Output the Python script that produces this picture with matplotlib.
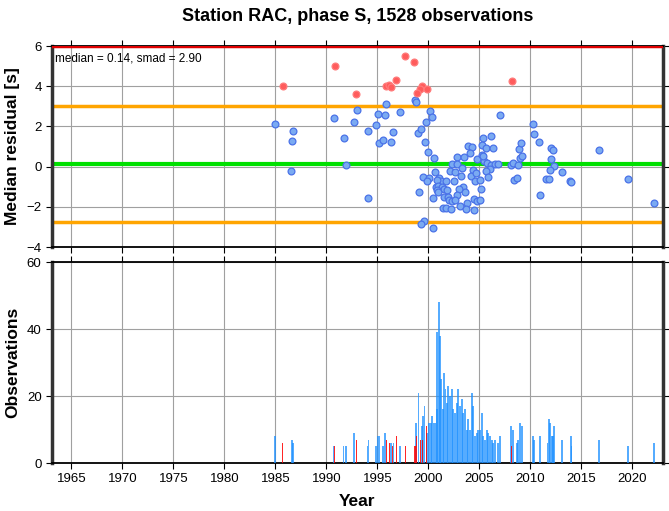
import numpy as np
import matplotlib
matplotlib.use("Agg")
import matplotlib.pyplot as plt

plt.rcParams['font.family'] = ['Liberation Sans', 'DejaVu Sans']

station = "RAC"
phase = "S"
n_obs = 1528
median = 0.14
smad = 2.90

# outliers (red) - year, median residual
red_year = [1985.73, 1990.88, 1992.91, 1997.72, 1998.63, 1995.85, 1996.12, 1996.34,
            1996.86, 1999.41, 1999.19, 1998.89, 1999.84, 2008.18]
red_res = [4.00, 5.01, 3.59, 5.49, 5.23, 4.02, 4.04, 3.94,
           4.32, 4.02, 3.84, 3.67, 3.87, 4.24]

# accepted events (blue)
blue_year = [1984.97, 1986.76, 1986.67, 1986.57, 1990.73, 1991.74, 1991.93, 1992.75,
             1993.01, 1994.06, 1994.09, 1994.87, 1995.04, 1995.17, 1995.56, 1995.78,
             1995.85, 1996.31, 1996.54, 1997.23, 1998.73, 1998.79, 1998.99, 1999.25,
             1999.77, 2000.14, 2000.33, 1999.65, 2000.00, 2000.56, 1999.51, 2000.07,
             1999.90, 1999.06, 1999.61, 1999.31, 2000.43, 2000.63, 2000.46, 2005.39,
             2003.89, 2004.31, 2004.09, 2002.84, 2003.50, 2004.77, 2005.29, 2005.46,
             2002.32, 2002.81, 2003.33, 2002.10, 2002.62, 2004.35, 2003.21, 2004.19,
             2004.68, 2001.08, 2001.25, 2000.82, 2001.71, 2002.52, 2004.61, 2000.73,
             2000.98, 2001.31, 2001.57, 2000.88, 2001.86, 2000.98, 2003.43, 2003.57,
             2003.04, 2005.17, 2002.81, 2001.54, 2001.96, 2002.06, 2002.29, 2002.62,
             2003.79, 2003.11, 2004.45, 2004.75, 2001.41, 2001.71, 2002.20, 2003.70,
             2004.51, 2005.04, 2007.00, 2006.18, 2005.26, 2005.63, 2006.31, 2005.33,
             2005.75, 2006.12, 2006.51, 2006.83, 2006.05, 2005.66, 2005.82, 2005.07,
             2008.08, 2008.27, 2008.76, 2008.99, 2009.19, 2008.92, 2009.12, 2008.37,
             2008.67, 2010.24, 2010.36, 2010.88, 2010.95, 2012.06, 2012.23, 2012.06,
             2012.29, 2011.90, 2011.54, 2011.80, 2013.08, 2013.89, 2014.02, 2016.74,
             2019.58, 2022.13]
blue_res = [2.10, 1.79, 1.26, -0.20, 2.42, 1.41, 0.07, 2.20,
            2.83, -1.54, 1.76, 2.08, 2.63, 1.19, 1.33, 2.57,
            3.13, 1.21, 1.74, 2.73, 3.31, 3.21, 1.69, 1.86,
            2.23, 2.76, 2.48, 1.24, 0.74, 0.42, -0.51, -0.58,
            -0.74, -1.24, -2.69, -2.86, -3.06, -0.26, -1.54, 1.44,
            1.01, 0.96, 0.68, 0.50, 0.50, 0.37, 0.58, 0.28,
            0.15, 0.15, -0.05, -0.21, -0.25, -0.16, -0.46, -0.46,
            -0.33, -0.58, -0.70, -0.66, -0.74, -0.74, -0.72, -0.99,
            -0.96, -1.03, -1.11, -1.16, -1.16, -1.24, -1.01, -1.26,
            -1.12, -1.09, -1.41, -1.50, -1.52, -1.66, -1.73, -1.65,
            -1.82, -1.95, -1.60, -1.70, -2.08, -2.08, -2.11, -2.10,
            -2.18, -0.66, 2.58, 1.54, 1.06, 0.91, 0.94, 0.52,
            0.17, 0.08, 0.13, 0.15, -0.11, -0.20, -0.50, -1.65,
            0.08, 0.20, 0.10, 0.42, 0.53, 0.88, 1.19, -0.65,
            -0.55, 2.13, 1.64, 1.21, -1.39, 0.91, 0.83, 0.40,
            0.02, -0.18, -0.60, -0.60, -0.25, -0.71, -0.77, 0.83,
            -0.63, -1.82]

# observation counts per event
obs_year = [1984.97, 1986.61, 1986.76, 1990.69, 1991.67, 1991.90, 1992.72, 1994.02,
            1994.12, 1994.84, 1995.04, 1995.20, 1995.53, 1995.75, 1996.31, 1996.57,
            1997.22, 1998.82, 1999.02, 1999.35, 1999.45, 1999.63, 1999.90, 2000.07,
            2000.24, 2000.36, 2000.51, 2000.66, 2000.82, 2000.88, 2001.02, 2001.15,
            2001.27, 2001.41, 2001.54, 2001.67, 2001.80, 2001.96, 2002.13, 2002.29,
            2002.45, 2002.62, 2002.78, 2002.94, 2003.11, 2003.27, 2003.43, 2003.60,
            2003.76, 2003.92, 2004.09, 2004.25, 2004.41, 2004.58, 2004.75, 2004.90,
            2005.07, 2005.24, 2005.39, 2005.56, 2005.73, 2005.88, 2006.05, 2006.22,
            2006.37, 2006.54, 2006.86, 2007.03, 2008.08, 2008.27, 2008.67, 2008.82,
            2008.99, 2009.16, 2010.24, 2010.39, 2010.95, 2011.67, 2011.80, 2011.93,
            2012.13, 2012.25, 2012.35, 2013.08, 2013.96, 2014.02, 2016.71, 2019.58,
            2022.13]
obs_count = [8, 7, 6, 5, 5, 5, 9, 5,
             7, 5, 8, 8, 5, 9, 6, 6,
             5, 12, 21, 11, 14, 17, 9, 12,
             12, 14, 12, 12, 16, 39, 48, 38,
             25, 16, 27, 22, 18, 23, 20, 22,
             16, 15, 18, 22, 17, 19, 15, 16,
             10, 13, 10, 21, 17, 8, 9, 10,
             10, 15, 8, 7, 10, 9, 8, 7,
             6, 7, 6, 8, 11, 10, 6, 7,
             12, 11, 8, 7, 8, 6, 13, 12,
             8, 8, 11, 7, 8, 5, 7, 5,
             6]

out_obs_year = [1985.73, 1990.76, 1992.91, 1995.92, 1996.18, 1996.44, 1996.90, 1997.72,
                1998.60, 1998.70, 1998.82, 1999.19, 1999.45, 1999.77, 2008.18]
out_obs_count = [6, 5, 7, 7, 6, 5, 8, 5,
                 5, 5, 8, 7, 7, 11, 5]

xmin, xmax = 1963.1, 2023.0

fig = plt.figure(figsize=(6.69, 5.11), dpi=100)
ax1 = fig.add_axes([0.0777, 0.5166, 0.9133, 0.3933])
ax2 = fig.add_axes([0.0777, 0.0939, 0.9133, 0.3933])

for ax in (ax1, ax2):
    ax.set_xlim(xmin, xmax)
    ax.set_xticks(np.arange(1965, 2021, 5))
    ax.grid(True, color='#a0a0a0', lw=0.8)
    ax.set_axisbelow(True)
    ax.tick_params(direction='out', length=4, width=0.8, labelsize=9.5,
                   top=True, right=True)
    for side in ('left', 'right'):
        ax.spines[side].set_linewidth(2.5)
        ax.spines[side].set_color('#333333')
    for side in ('top', 'bottom'):
        ax.spines[side].set_linewidth(1.3)

# top panel: residuals
ax1.set_ylim(-4, 6)
ax1.set_yticks([-4, -2, 0, 2, 4, 6])
ax1.tick_params(labelbottom=False)
ax1.axhline(6, color='#e00000', lw=2.5, zorder=3)
ax1.axhline(median + smad, color='#ffa500', lw=2.5, zorder=2)
ax1.axhline(median - smad, color='#ffa500', lw=2.5, zorder=2)
ax1.axhline(median, color='#00e000', lw=3, zorder=2)
ax1.scatter(blue_year, blue_res, s=24, c='#7aaaf2', edgecolors='#4a72e8',
            linewidths=0.9, zorder=4)
ax1.scatter(red_year, red_res, s=24, c='#ff5c5c', edgecolors='#ff7a7a',
            linewidths=0.9, zorder=4)
ax1.text(0.005, 0.97, f"median = {median:.2f}, smad = {smad:.2f}",
         transform=ax1.transAxes, ha='left', va='top', fontsize=8.5)
ax1.set_ylabel("Median residual [s]", fontsize=12.5, fontweight='bold')
ax1.yaxis.set_label_coords(-0.052, 0.5)
ax1.set_title(f"Station {station}, phase {phase}, {n_obs} observations",
              fontsize=13, fontweight='bold', pad=18)

# bottom panel: observation counts
ax2.set_ylim(0, 60)
ax2.set_yticks([0, 20, 40, 60])
ax2.bar(obs_year, obs_count, width=0.17, color='#1e90ff', alpha=0.75,
        linewidth=0, zorder=3)
ax2.bar(out_obs_year, out_obs_count, width=0.1, color='#ff0000', alpha=0.85,
        linewidth=0, zorder=4)
ax2.set_ylabel("Observations", fontsize=12.5, fontweight='bold')
ax2.yaxis.set_label_coords(-0.052, 0.5)
ax2.set_xlabel("Year", fontsize=12.5, fontweight='bold', labelpad=6)

fig.savefig("out.png", dpi=100)
